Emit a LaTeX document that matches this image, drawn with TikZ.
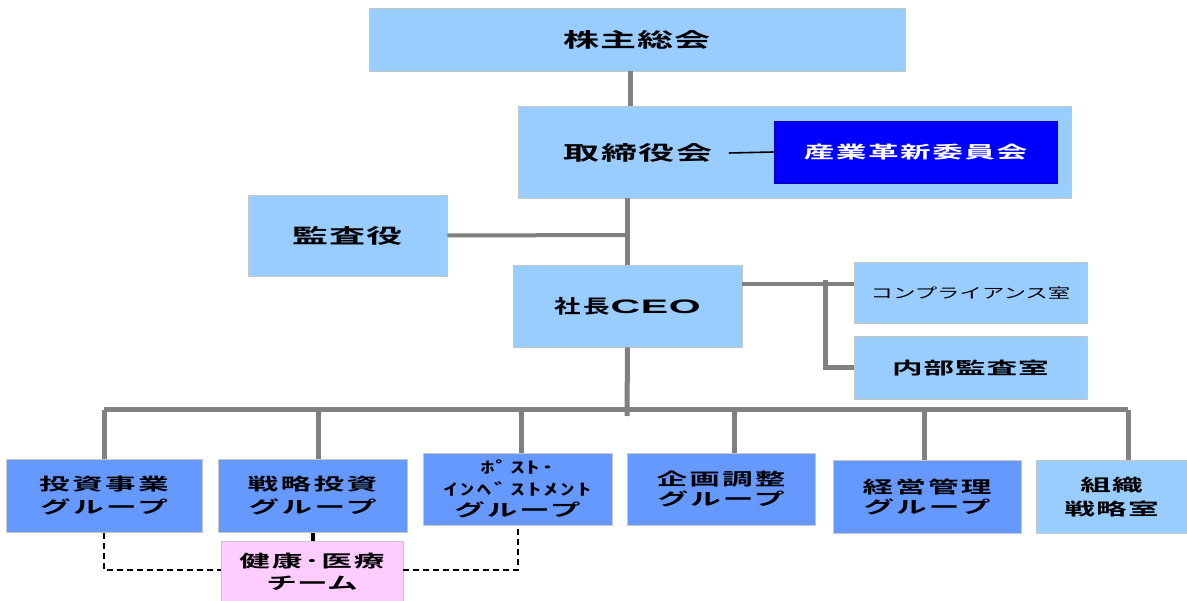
\documentclass[tikz,border=0pt]{standalone}
\usepackage{fontspec}
\usepackage{graphicx}
\setmainfont{Noto Sans CJK JP}
\newfontfamily\jpb{Noto Sans CJK JP Bold}
\newfontfamily\jpn{Noto Sans CJK JP}
\newfontfamily\latb{Liberation Sans Bold}[FakeStretch=2.1]
\definecolor{lb}{HTML}{99CCFF}
\definecolor{mb}{HTML}{6699FF}
\definecolor{pk}{HTML}{FFCCFF}
\definecolor{ln}{HTML}{808080}
\newcommand{\jf}[3]{\jpb\fontsize{#1}{#2}\selectfont\addfontfeatures{LetterSpace=#3}}
\newcommand{\sx}[1]{\scalebox{1.8}[1]{#1}}
\tikzset{
  box/.style={draw=black!22, line width=0.8pt, fill=lb, inner sep=0pt, align=center},
  grp/.style={box, fill=mb},
  conn/.style={draw=ln, line width=5pt},
  sideconn/.style={draw=ln, line width=4pt},
  dashlink/.style={draw=black, dash pattern=on 6pt off 4pt, line width=1.6pt},
}
\begin{document}
\begin{tikzpicture}[x=1pt,y=-1pt]
\useasboundingbox (0,0) rectangle (1187,601);
% top
\node[box, minimum width=536pt, minimum height=63pt, font=\jf{20}{22}{3}] (sh) at (637,39.5) {\sx{株主総会}};
\node[box, minimum width=553pt, minimum height=92pt] (bd) at (794.5,152) {};
\node[font=\jf{20}{22}{5}, inner sep=0pt] (bdt) at (638,153) {\sx{取締役会}};
\node[box, fill=blue, text=white, draw=blue!70!black, minimum width=283pt, minimum height=62pt, font=\jf{17}{20}{5}] (cm) at (915.5,152) {\sx{産業革新委員会}};
\node[box, minimum width=199pt, minimum height=81pt, font=\jf{20}{22}{4}] (au) at (347.5,235.5) {\sx{監査役}};
\node[box, minimum width=229pt, minimum height=82pt] (ceo) at (627.5,306) {{\jf{19}{21}{12}\scalebox{1.4}[1]{社長}}{\latb\fontsize{19.5}{21}\selectfont\addfontfeatures{LetterSpace=4}CEO}};
\node[box, minimum width=233pt, minimum height=61pt, font=\jpn\fontsize{14}{18}\selectfont] (cp) at (970.5,292.5) {\scalebox{1.6}[1]{コンプライアンス室}};
\node[box, minimum width=233pt, minimum height=63pt, font=\jf{17}{20}{3}] (ia) at (970.5,368) {\sx{内部監査室}};
% groups
\node[grp, minimum width=196pt, minimum height=73pt, font=\jf{17}{23}{8}] (g1) at (104,496) {\sx{投資事業}\\\sx{グループ}};
\node[grp, minimum width=189pt, minimum height=73pt, font=\jf{17}{23}{8}] (g2) at (312.5,496) {\sx{戦略投資}\\\sx{グループ}};
\node[grp, minimum width=189pt, minimum height=72pt, font=\jf{16}{21.5}{2}] (g3) at (517.5,489) {\sx{ﾎﾟｽﾄ･}\\{\addfontfeatures{LetterSpace=8}\sx{ｲﾝﾍﾞｽﾄﾒﾝﾄ}}\\{\jf{17}{21.5}{6}\sx{グループ}}};
\node[grp, minimum width=188pt, minimum height=72pt, font=\jf{17}{20}{7}] (g4) at (721,489) {\sx{企画調整}\\\sx{グループ}};
\node[grp, minimum width=188pt, minimum height=73pt, font=\jf{17}{20}{7}] (g5) at (927,497) {\sx{経営管理}\\\sx{グループ}};
\node[box, minimum width=151pt, minimum height=73pt, font=\jf{17}{23.5}{4}] (g6) at (1111.5,497) {\sx{組織}\\\sx{戦略室}};
\node[box, fill=pk, minimum width=182pt, minimum height=60pt, font=\jf{17}{22}{6}] (ht) at (312,571.5) {\sx{健康･医療}\\{\addfontfeatures{LetterSpace=1}\sx{チーム}}};
% connectors
\coordinate (j1) at (627,235);
\coordinate (rv) at (825,284);
\path[conn] (sh.south -| 630,0) -- (bd.north -| 630,0);
\path[conn] (bd.south -| 627,0) -- (ceo.north -| 627,0);
\path[sideconn] (au.east) -- (j1);
\draw[line width=1.6pt] ([xshift=16pt]bdt.east) -- (cm.west);
\path[sideconn] (ceo.east |- rv) -- (cp.west |- rv);
\path[conn] (825,280) -- (825,368) -- (ia.west |- 0,368);
\path[conn] (ceo.south) -- (627,416);
\path[conn] (104,410) -- (1128,410);
\path[conn] (104,410) -- (g1.north -| 104,0);
\path[conn] (318,410) -- (g2.north -| 318,0);
\path[conn] (521,410) -- (g3.north -| 521,0);
\path[conn] (734,410) -- (g4.north -| 734,0);
\path[conn] (924,410) -- (g5.north -| 924,0);
\path[conn] (1128,410) -- (g6.north -| 1128,0);
\path[dashlink] (g1.south -| 104,0) -- (104,570) -- (ht.west |- 0,570);
\path[dashlink] (ht.east |- 0,570) -- (518,570) -- (g3.south -| 518,0);
\draw[line width=4pt] (g2.south -| 313,0) -- (ht.north -| 313,0);
\end{tikzpicture}
\end{document}
